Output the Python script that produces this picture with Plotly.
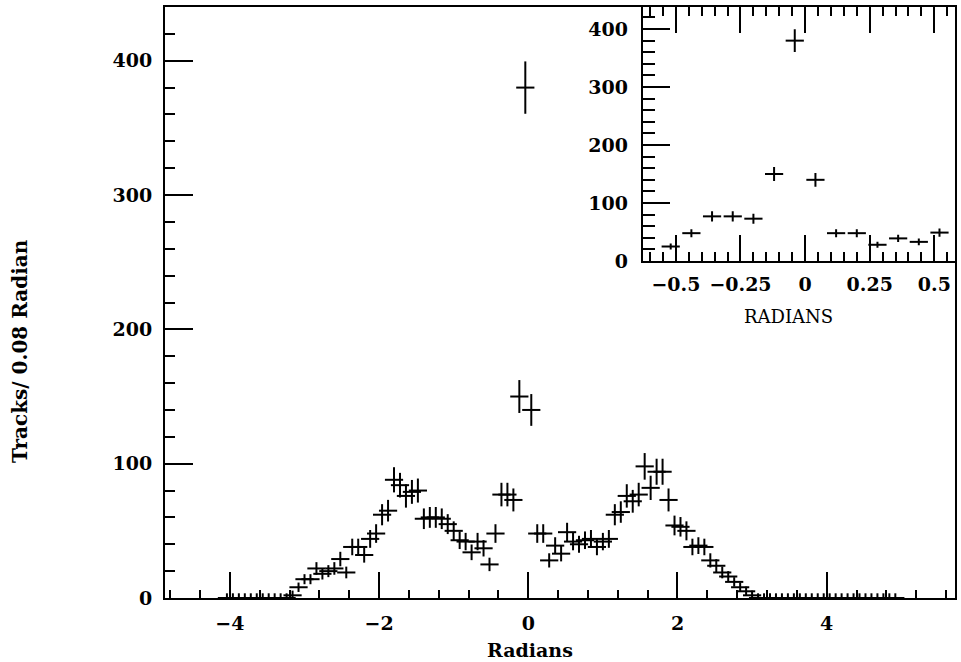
import numpy as np
import plotly.graph_objects as go

# ---- data -------------------------------------------------------------
bin_width = 0.08
bin_centers = np.round(-4.04 + bin_width * np.arange(113), 2)

counts = (
    [0] * 11 +                                   # -4.04 .. -3.24
    [2, 8, 14, 14, 22, 18, 20, 22, 29, 19,       # -3.16 .. -2.44
     38, 38, 32, 44, 48, 62, 65, 88, 84, 76,     # -2.36 .. -1.64
     79, 80, 59, 60, 60, 59, 55, 50, 43, 42,     # -1.56 .. -0.84
     34, 42, 37, 25, 48, 77, 77, 73, 150, 380,   # -0.76 .. -0.04
     140, 48, 48, 28, 39, 33, 49, 42, 40, 43,    #  0.04 ..  0.76
     44, 38, 42, 44, 62, 64, 76, 72, 77, 98,     #  0.84 ..  1.56
     82, 94, 94, 73, 54, 53, 50, 38, 39, 38,     #  1.64 ..  2.36
     28, 24, 19, 16, 12, 8, 5, 2] +              #  2.44 ..  3.00
    [0] * 24                                     #  3.08 ..  4.92
)
counts = np.array(counts, dtype=float)
errors = np.maximum(np.sqrt(counts), 3.5)

inset_mask = np.abs(bin_centers) < 0.56
inset_x = bin_centers[inset_mask]
inset_y = counts[inset_mask]
inset_err = np.sqrt(inset_y)

main_xticks = [-4, -2, 0, 2, 4]
main_yticks = [0, 100, 200, 300, 400]
inset_xticks = [-0.5, -0.25, 0, 0.25, 0.5]

# ---- figure -----------------------------------------------------------
FONT = "DejaVu Serif"
tickfont = dict(family=FONT, size=19, color="black", weight="bold")

cross = dict(symbol="line-ew", size=13, color="black",
             line=dict(width=2, color="black"))

fig = go.Figure()
fig.add_trace(go.Scatter(
    x=bin_centers, y=counts, mode="markers", marker=cross,
    error_y=dict(type="data", array=errors, width=0, thickness=2, color="black"),
    cliponaxis=False, xaxis="x", yaxis="y", showlegend=False, hoverinfo="skip"))
fig.add_trace(go.Scatter(
    x=inset_x, y=inset_y, mode="markers", marker=cross,
    error_y=dict(type="data", array=inset_err, width=0, thickness=2, color="black"),
    cliponaxis=False, xaxis="x2", yaxis="y2", showlegend=False, hoverinfo="skip"))

axis_common = dict(showline=True, linewidth=2, linecolor="black", showgrid=False,
                   zeroline=False, ticks="inside", tickcolor="black",
                   tickwidth=2, tickfont=tickfont)

fig.update_layout(
    width=961, height=662,
    margin=dict(l=165, r=4, t=7, b=64),
    paper_bgcolor="white", plot_bgcolor="white",
    xaxis=dict(domain=[0, 1], range=[-4.87, 5.72], anchor="y",
               tickvals=main_xticks, ticklen=26, mirror=True,
               ticklabelstandoff=7,
               minor=dict(dtick=0.4, tick0=0, ticklen=8, tickwidth=1.5,
                          ticks="inside", tickcolor="black", showgrid=False),
               **axis_common),
    yaxis=dict(domain=[0, 1], range=[0, 440], anchor="x",
               tickvals=main_yticks, ticklen=28, mirror=True,
               ticklabelstandoff=7,
               minor=dict(dtick=20, tick0=0, ticklen=10, tickwidth=1.5,
                          ticks="inside", tickcolor="black", showgrid=False),
               **axis_common),
    xaxis2=dict(domain=[0.6048, 1], range=[-0.628, 0.580], anchor="y2",
                tickvals=inset_xticks, ticklen=26, mirror="ticks",
                ticklabelstandoff=5,
                minor=dict(dtick=0.05, tick0=0, ticklen=9, tickwidth=1.5,
                           ticks="inside", tickcolor="black", showgrid=False),
                **axis_common),
    yaxis2=dict(domain=[0.5702, 1], range=[0, 438], anchor="x2",
                tickvals=main_yticks, ticklen=27, mirror=True,
                ticklabelstandoff=9,
                minor=dict(dtick=20, tick0=0, ticklen=12, tickwidth=1.5,
                           ticks="inside", tickcolor="black", showgrid=False),
                **axis_common),
    annotations=[
        dict(text="Radians", xref="paper", yref="paper", x=0.462, y=0,
             yshift=-52, showarrow=False, xanchor="center", yanchor="middle",
             font=dict(family=FONT, size=19, color="black", weight="bold")),
        dict(text="Tracks/ 0.08 Radian", xref="paper", yref="paper", x=0,
             xshift=-145, y=0.418, textangle=-90, showarrow=False,
             xanchor="center", yanchor="middle",
             font=dict(family=FONT, size=20, color="black", weight="bold")),
        dict(text="RADIANS", xref="paper", yref="paper", x=0.789, y=0.4755,
             showarrow=False, xanchor="center", yanchor="middle",
             font=dict(family=FONT, size=18, color="black")),
    ],
)

fig.write_html("out.html")
